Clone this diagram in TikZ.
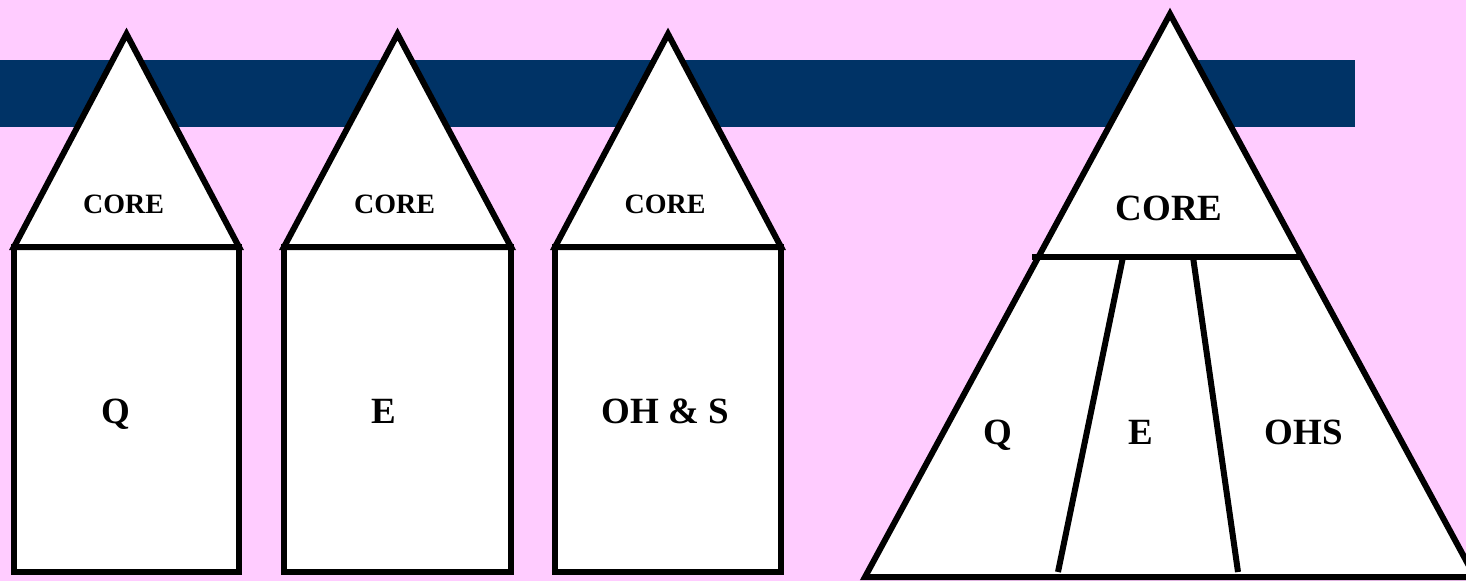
\documentclass[tikz,border=0pt]{standalone}
\usepackage{fontspec}
\setmainfont{Liberation Serif}
\definecolor{cBack}{HTML}{FFCCFF}
\definecolor{cBar} {HTML}{003366}
\colorlet{ink}{black}
% house = CORE roof on top of a box: left x, right x, label x, name, label
\newcommand{\corehouse}[5]{%
  \draw[blk] ({#1},-247) rectangle ({#2},-572);%
  \draw[blk] ({#1},-247) -- ({(#1+#2)/2},-34) -- ({#2},-247) -- cycle;%
  \node[roof] (#4core) at ({(#1+#2)/2-3},-213) {CORE};%
  \node[lbl]  (#4) at ({#3},-423) {#5};%
}

\begin{document}
\begin{tikzpicture}[x=1pt,y=1pt,
    blk/.style ={draw=ink,fill=white,line width=6pt},
    roof/.style={anchor=base,inner sep=0pt,text=ink,font=\fontsize{28}{30}\selectfont\bfseries},
    lbl/.style ={anchor=base,inner sep=0pt,text=ink,font=\fontsize{37}{40}\selectfont\bfseries},
  ]

% fixed canvas, same size as the slide
\fill[cBack] (0,0) rectangle (1466,-581);
\useasboundingbox (0,0) rectangle (1466,-581);
\clip (0,0) rectangle (1466,-581);

% ---- title bar -------------------------------------------------------------
\fill[cBar] (0,-60) rectangle (1355,-127);

% ---- three separate systems ------------------------------------------------
\corehouse{14} {239}{116}{qual}{Q}
\corehouse{284}{511}{384}{env} {E}
\corehouse{555}{781}{665}{ohs} {OH \& S}

% ---- integrated system -----------------------------------------------------
\draw[blk] (865,-577) -- (1170,-14) -- (1475,-577) -- cycle;
\coordinate (cl) at (1032,-257);
\coordinate (cr) at (1300,-257);
\draw[blk] (cl) -- (cr);
\coordinate (d1t) at (1123,-257);
\coordinate (d1b) at (1058,-572);
\coordinate (d2t) at (1193,-257);
\coordinate (d2b) at (1238,-572);
\draw[blk] (d1t) -- (d1b);
\draw[blk] (d2t) -- (d2b);

\node[lbl] (icore) at (1169,-220) {CORE};
\node[lbl] (iq)    at (998,-444)  {Q};
\node[lbl] (ie)    at (1141,-444) {E};
\node[lbl] (iohs)  at (1304,-444) {OHS};

\end{tikzpicture}
\end{document}
